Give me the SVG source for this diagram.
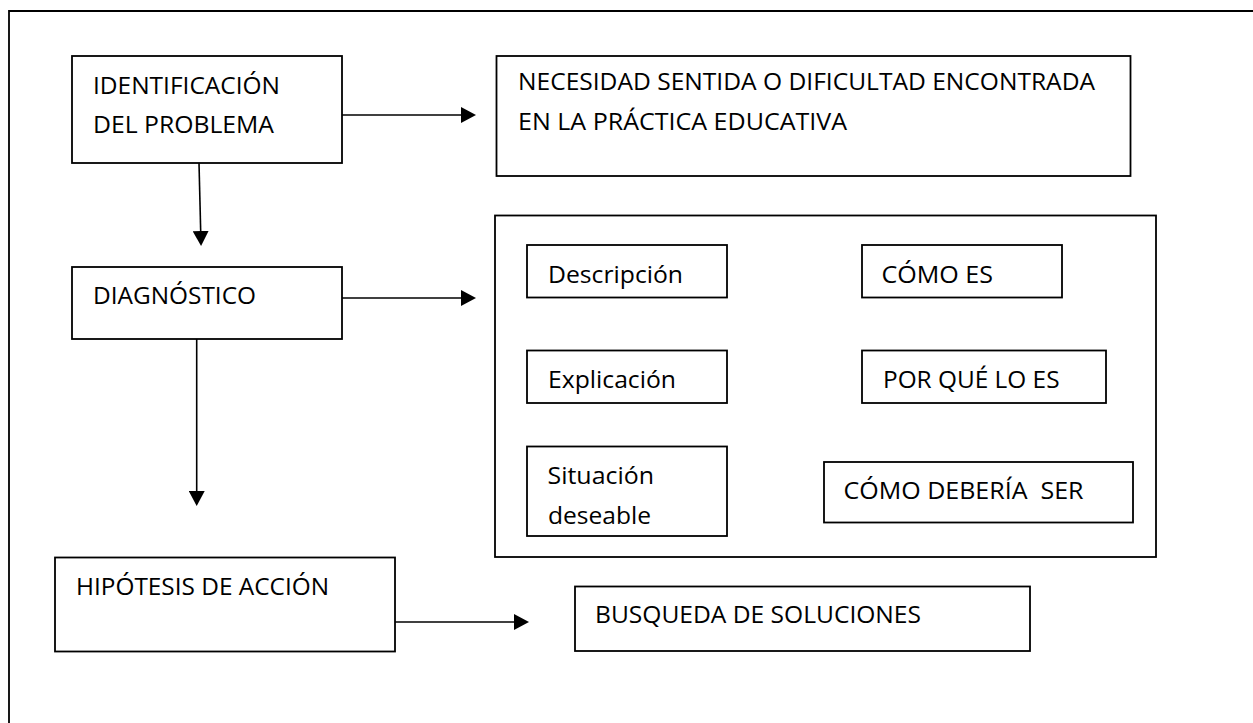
<svg xmlns="http://www.w3.org/2000/svg" width="1253" height="723" viewBox="0 0 1253 723">
  <style>
    .box { fill: #fff; stroke: #000; stroke-width: 1.8; }
    .frame { fill: none; stroke: #000; stroke-width: 1.8; }
    .conn { fill: none; stroke: #000; stroke-width: 1.6; }
    .t { font-family: "Open Sans", "Liberation Sans", sans-serif; font-size: 24px; fill: #000; white-space: pre; }
  </style>
  <defs>
    <marker id="ah" viewBox="0 0 15 16" refX="13" refY="8" markerWidth="15" markerHeight="16" markerUnits="userSpaceOnUse" orient="auto">
      <path d="M0,0 L15,8 L0,16 Z" fill="#000"/>
    </marker>
  </defs>
  <rect width="1253" height="723" fill="#fff"/>
  <path class="frame" d="M9,723 V11 H1253"/>

  <g id="identificacion">
    <rect class="box" x="72" y="56" width="270" height="107"/>
    <text class="t" x="93" y="94" textLength="187" lengthAdjust="spacingAndGlyphs">IDENTIFICACIÓN</text>
    <text class="t" x="93" y="133" textLength="181" lengthAdjust="spacingAndGlyphs">DEL PROBLEMA</text>
  </g>
  <g id="necesidad">
    <rect class="box" x="496.5" y="56" width="634" height="120"/>
    <text class="t" x="518" y="90" textLength="577" lengthAdjust="spacingAndGlyphs">NECESIDAD SENTIDA O DIFICULTAD ENCONTRADA</text>
    <text class="t" x="518" y="130" textLength="329" lengthAdjust="spacingAndGlyphs">EN LA PRÁCTICA EDUCATIVA</text>
  </g>
  <g id="diagnostico">
    <rect class="box" x="72" y="267" width="270" height="72"/>
    <text class="t" x="93" y="304" textLength="163" lengthAdjust="spacingAndGlyphs">DIAGNÓSTICO</text>
  </g>
  <g id="detalle">
    <rect class="box" x="495" y="215.5" width="661" height="341.5"/>
  </g>
  <g id="descripcion">
    <rect class="box" x="527" y="245" width="200" height="52.5"/>
    <text class="t" x="548" y="282.5" textLength="135" lengthAdjust="spacingAndGlyphs">Descripción</text>
  </g>
  <g id="como-es">
    <rect class="box" x="862" y="245" width="200" height="52.5"/>
    <text class="t" x="881.5" y="282.5" textLength="111.5" lengthAdjust="spacingAndGlyphs">CÓMO ES</text>
  </g>
  <g id="explicacion">
    <rect class="box" x="527" y="350.5" width="200" height="52.5"/>
    <text class="t" x="548" y="388" textLength="128" lengthAdjust="spacingAndGlyphs">Explicación</text>
  </g>
  <g id="por-que">
    <rect class="box" x="862" y="350.5" width="244" height="52.5"/>
    <text class="t" x="883" y="388" textLength="176.5" lengthAdjust="spacingAndGlyphs">POR QUÉ LO ES</text>
  </g>
  <g id="situacion">
    <rect class="box" x="527" y="446.5" width="200" height="89.5"/>
    <text class="t" x="547.5" y="483.5" textLength="106.5" lengthAdjust="spacingAndGlyphs">Situación</text>
    <text class="t" x="548" y="524" textLength="103" lengthAdjust="spacingAndGlyphs">deseable</text>
  </g>
  <g id="como-deberia">
    <rect class="box" x="824" y="462" width="309" height="60.5"/>
    <text class="t" x="843.5" y="499" textLength="240" lengthAdjust="spacingAndGlyphs">CÓMO DEBERÍA  SER</text>
  </g>
  <g id="hipotesis">
    <rect class="box" x="55" y="557.5" width="340" height="94"/>
    <text class="t" x="76" y="595" textLength="253" lengthAdjust="spacingAndGlyphs">HIPÓTESIS DE ACCIÓN</text>
  </g>
  <g id="busqueda">
    <rect class="box" x="575" y="586.5" width="455" height="64.5"/>
    <text class="t" x="595" y="623" textLength="326" lengthAdjust="spacingAndGlyphs">BUSQUEDA DE SOLUCIONES</text>
  </g>

  <g id="connectors">
    <line class="conn" x1="342" y1="115" x2="474" y2="115" marker-end="url(#ah)"/>
    <line class="conn" x1="199" y1="163" x2="201" y2="244" marker-end="url(#ah)"/>
    <line class="conn" x1="342" y1="298" x2="474" y2="298" marker-end="url(#ah)"/>
    <line class="conn" x1="196.7" y1="339" x2="196.7" y2="504" marker-end="url(#ah)"/>
    <line class="conn" x1="395" y1="622" x2="527" y2="622" marker-end="url(#ah)"/>
  </g>
</svg>
